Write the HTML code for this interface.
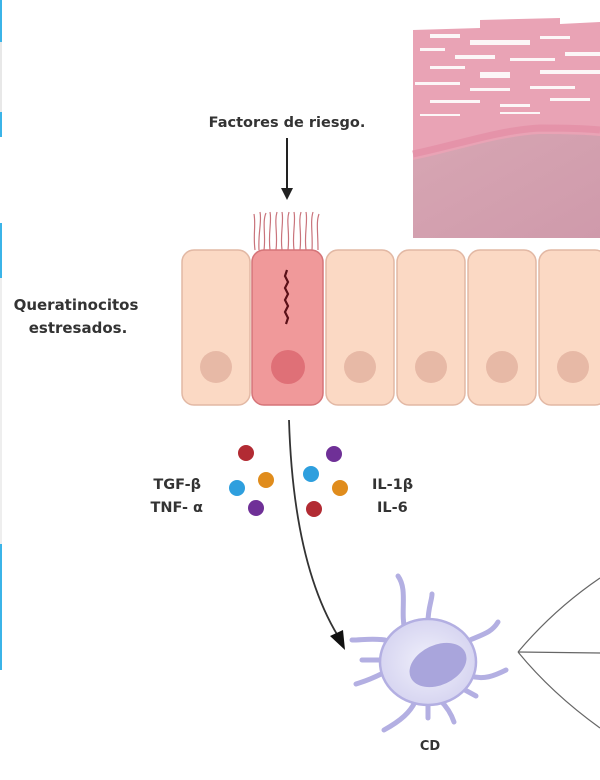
<!DOCTYPE html>
<html><head><meta charset="utf-8"><style>
html,body{margin:0;padding:0;background:#fff;width:600px;height:780px;overflow:hidden}
svg{display:block}
text{font-family:"DejaVu Sans","Liberation Sans",sans-serif;font-weight:bold;fill:#333}
</style></head><body>
<svg width="600" height="780" viewBox="0 0 600 780" xmlns="http://www.w3.org/2000/svg">
<defs>
<linearGradient id="mauve" x1="0" y1="0" x2="1" y2="1">
<stop offset="0" stop-color="#d7a6b3"/><stop offset="1" stop-color="#cf9aab"/></linearGradient>
<radialGradient id="cellg" cx="0.5" cy="0.5" r="0.6"><stop offset="0" stop-color="#f0f0fb"/><stop offset="1" stop-color="#d2d0ef"/></radialGradient>
</defs>
<rect x="0" y="0" width="2" height="42" fill="#3bb4e8"/>
<rect x="0" y="112" width="2" height="25" fill="#3bb4e8"/>
<rect x="0" y="223" width="2" height="55" fill="#3bb4e8"/>
<rect x="0" y="544" width="2" height="126" fill="#3bb4e8"/>
<rect x="0" y="42" width="2" height="70" fill="#e8e8e8"/>
<rect x="0" y="278" width="2" height="266" fill="#eee"/>
<!-- histology -->
<path d="M413 30 L480 28 L480 20 L560 18 L560 24 L600 22 L600 238 L413 238 Z" fill="#e9a3b5"/>
<g fill="#fff" opacity="0.9">
<rect x="430" y="34" width="30" height="4"/>
<rect x="470" y="40" width="60" height="5"/>
<rect x="540" y="36" width="30" height="3"/>
<rect x="420" y="48" width="25" height="3"/>
<rect x="455" y="55" width="40" height="4"/>
<rect x="510" y="58" width="45" height="3"/>
<rect x="565" y="52" width="35" height="4"/>
<rect x="430" y="66" width="35" height="3"/>
<rect x="480" y="72" width="30" height="6"/>
<rect x="540" y="70" width="60" height="4"/>
<rect x="415" y="82" width="45" height="3"/>
<rect x="470" y="88" width="40" height="3"/>
<rect x="530" y="86" width="45" height="3"/>
<rect x="430" y="100" width="50" height="3"/>
<rect x="500" y="104" width="30" height="3"/>
<rect x="550" y="98" width="40" height="3"/>
<rect x="420" y="114" width="40" height="2"/>
<rect x="500" y="112" width="40" height="2"/>
</g>
<path d="M413 160 C460 150 500 136 540 134 C570 134 590 135 600 136 L600 238 L413 238 Z" fill="url(#mauve)"/>
<path d="M413 154 C460 144 500 130 540 128 C570 128 590 129 600 130" stroke="#e38fa6" stroke-width="7" fill="none" opacity="0.8"/>
<!-- label & arrow -->
<text x="287" y="127" font-size="14.5" text-anchor="middle">Factores de riesgo.</text>
<line x1="287" y1="138" x2="287" y2="190" stroke="#222" stroke-width="2"/>
<path d="M281 188 L293 188 L287 200 Z" fill="#222"/>
<g stroke="#c9737b" stroke-width="1.2" fill="none">
<path d="M255 250 C253 235 256 225 254 214 M259 250 C258 232 262 222 260 212 M264 250 C266 235 262 222 266 213 M270 250 C268 232 272 222 270 212 M276 250 C278 234 274 222 277 212 M282 250 C280 234 284 222 282 212 M288 250 C290 232 286 222 289 212 M294 250 C292 234 296 222 294 212 M300 250 C302 232 298 222 301 212 M306 250 C304 234 308 222 306 212 M312 250 C313 234 310 222 313 212 M318 250 C318 232 316 222 319 214"/>
</g>
<g stroke="#e2b8a4" stroke-width="1.5">
<rect x="182" y="250" width="68" height="155" rx="12" fill="#fbd9c4"/>
<rect x="326" y="250" width="68" height="155" rx="12" fill="#fbd9c4"/>
<rect x="397" y="250" width="68" height="155" rx="12" fill="#fbd9c4"/>
<rect x="468" y="250" width="68" height="155" rx="12" fill="#fbd9c4"/>
<rect x="539" y="250" width="68" height="155" rx="12" fill="#fbd9c4"/>
</g>
<rect x="252" y="250" width="71" height="155" rx="12" fill="#f0999a" stroke="#d57478" stroke-width="1.5"/>
<g fill="#e7b9a6">
<circle cx="216" cy="367" r="16"/><circle cx="360" cy="367" r="16"/><circle cx="431" cy="367" r="16"/><circle cx="502" cy="367" r="16"/><circle cx="573" cy="367" r="16"/>
</g>
<circle cx="288" cy="367" r="17" fill="#df7077"/>
<path d="M287 270 l-2 6 l3 6 l-3 6 l3 6 l-3 6 l3 6 l-3 6 l3 6 l-2 6" stroke="#5a1018" stroke-width="2.2" fill="none"/>
<text x="76" y="310" font-size="15" text-anchor="middle">Queratinocitos</text>
<text x="78" y="333" font-size="15" text-anchor="middle">estresados.</text>
<text x="201" y="489" font-size="14.5" text-anchor="end">TGF-β</text>
<text x="203" y="512" font-size="14.5" text-anchor="end">TNF- α</text>
<text x="372" y="489" font-size="14.5">IL-1β</text>
<text x="377" y="512" font-size="14.5">IL-6</text>
<circle cx="246" cy="453" r="8" fill="#b22b33"/>
<circle cx="266" cy="480" r="8" fill="#e08c1c"/>
<circle cx="237" cy="488" r="8" fill="#2e9fde"/>
<circle cx="256" cy="508" r="8" fill="#6f3097"/>
<circle cx="334" cy="454" r="8" fill="#6f3097"/>
<circle cx="311" cy="474" r="8" fill="#2e9fde"/>
<circle cx="340" cy="488" r="8" fill="#e08c1c"/>
<circle cx="314" cy="509" r="8" fill="#b22b33"/>
<path d="M289 420 C292 520 310 590 338 636" stroke="#333" stroke-width="1.8" fill="none"/>
<path d="M330 636 L345 650 L343 630 Z" fill="#111"/>
<g fill="#dcdaf3" stroke="#b3afe2" stroke-width="2.5" stroke-linecap="round">
<path d="M405 632 C400 610 408 590 398 576" fill="none" stroke-width="5"/>
<path d="M428 622 C428 608 432 600 432 594" fill="none" stroke-width="5"/>
<path d="M385 640 C372 638 362 640 352 640" fill="none" stroke-width="5"/>
<path d="M385 660 L362 660" fill="none" stroke-width="5"/>
<path d="M385 672 C370 680 362 682 356 684" fill="none" stroke-width="5"/>
<path d="M470 640 C484 634 492 632 498 622" fill="none" stroke-width="5"/>
<path d="M470 676 C484 680 494 676 506 670" fill="none" stroke-width="5"/>
<path d="M465 690 L476 696" fill="none" stroke-width="5"/>
<path d="M440 700 C448 708 452 716 454 722" fill="none" stroke-width="5"/>
<path d="M415 702 C410 712 402 720 384 730" fill="none" stroke-width="5"/>
<path d="M428 705 L428 718" fill="none" stroke-width="5"/>
<ellipse cx="428" cy="662" rx="48" ry="43" fill="url(#cellg)"/>
</g>
<ellipse cx="438" cy="665" rx="30" ry="20" transform="rotate(-25 438 665)" fill="#a9a5dc"/>
<text x="430" y="750" font-size="13" text-anchor="middle">CD</text>
<g stroke="#666" stroke-width="1.2" fill="none">
<path d="M518 652 C545 620 575 595 600 578"/>
<path d="M518 652 L600 653"/>
<path d="M518 652 C545 685 575 710 600 728"/>
</g>
</svg>
</body></html>
